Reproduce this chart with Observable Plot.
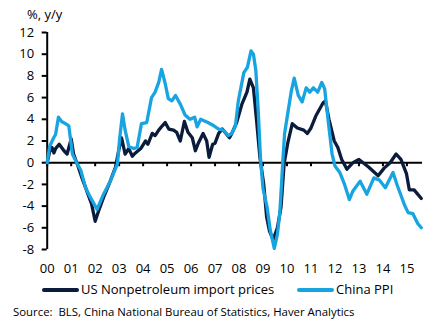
<!DOCTYPE html>
<html>
<head>
<meta charset="utf-8">
<script src="https://cdn.jsdelivr.net/npm/d3@7"></script>
<script src="https://cdn.jsdelivr.net/npm/@observablehq/plot@0.6"></script>
<style>
  html, body { margin: 0; padding: 0; background: #fff; }
  #wrap { position: relative; width: 440px; height: 327px; font-family: "Open Sans", sans-serif; color: #000; overflow: hidden; }
  #title { position: absolute; left: 27px; top: 5px; font-size: 13px; line-height: 18px; }
  #chart { position: absolute; left: 0; top: 0; }
  .leg { position: absolute; font-size: 13px; line-height: 18px; top: 280px; }
  .sw { position: absolute; height: 4px; top: 288px; border-radius: 2px; }
  #source { position: absolute; left: 13px; top: 304px; font-size: 11.4px; line-height: 16px; white-space: pre; }
</style>
</head>
<body>
<div id="wrap">
  <div id="chart"></div>
  <div id="title"></div>
  <div id="legend"></div>
  <div id="source"></div>
</div>
<script>
const titleText = "%, y/y";
const seriesNames = ["US Nonpetroleum import prices", "China PPI"];
const seriesColors = ["#0a1b3b", "#17a4e1"];
const sourceText = "Source:  BLS, China National Bureau of Statistics, Haver Analytics";

const years = [2000,2001,2002,2003,2004,2005,2006,2007,2008,2009,2010,2011,2012,2013,2014,2015];
const yearLabels = ["00","01","02","03","04","05","06","07","08","09","10","11","12","13","14","15"];
const yTicks = [-8,-6,-4,-2,0,2,4,6,8,10,12];

// US Nonpetroleum import prices, % y/y (decimal year, value)
const usDates = [2000.0,2000.1,2000.2,2000.28,2000.35,2000.5,2000.7,2000.83,2001.0,2001.1,2001.25,2001.45,2001.65,2001.85,2002.0,2002.15,2002.35,2002.63,2002.85,2002.98,2003.1,2003.25,2003.4,2003.55,2003.68,2003.9,2004.1,2004.2,2004.38,2004.5,2004.65,2004.8,2004.92,2005.07,2005.27,2005.4,2005.55,2005.72,2005.87,2006.05,2006.18,2006.3,2006.5,2006.65,2006.75,2006.9,2007.0,2007.15,2007.3,2007.6,2007.7,2007.9,2008.12,2008.33,2008.45,2008.6,2008.73,2008.87,2009.03,2009.15,2009.27,2009.42,2009.6,2009.75,2009.88,2010.03,2010.22,2010.43,2010.7,2010.85,2011.0,2011.2,2011.5,2011.6,2011.75,2011.97,2012.12,2012.28,2012.5,2012.75,2013.0,2013.4,2013.8,2014.05,2014.3,2014.55,2014.75,2014.98,2015.1,2015.3,2015.6];
const usValues = [0.0,1.0,1.4,0.9,1.3,1.7,1.1,0.8,2.2,0.8,-0.1,-1.4,-2.6,-3.8,-5.4,-4.4,-3.2,-1.7,-0.4,1.1,2.3,0.8,1.3,0.6,0.9,1.3,2.0,1.7,2.7,2.5,3.0,3.4,3.7,3.1,3.0,2.8,2.0,3.8,2.8,2.3,1.1,1.8,2.7,2.0,0.5,1.7,1.8,2.7,3.1,2.3,2.7,3.7,5.4,6.5,7.7,6.9,3.9,0.5,-2.0,-5.0,-6.3,-7.1,-6.0,-4.1,-0.1,1.8,3.6,3.2,3.0,2.7,3.2,4.3,5.5,5.7,4.0,2.0,1.4,0.3,-0.6,0.0,0.3,-0.4,-1.2,-0.5,0.0,0.8,0.3,-1.0,-2.5,-2.5,-3.3];

// China PPI, % y/y (decimal year, value)
const cnDates = [2000.0,2000.1,2000.27,2000.35,2000.47,2000.6,2000.76,2000.9,2001.05,2001.25,2001.4,2001.6,2001.8,2002.08,2002.35,2002.63,2002.93,2003.02,2003.14,2003.25,2003.4,2003.6,2003.75,2003.93,2004.15,2004.35,2004.5,2004.65,2004.77,2004.92,2005.05,2005.2,2005.35,2005.55,2005.75,2005.95,2006.15,2006.25,2006.4,2006.7,2006.95,2007.15,2007.35,2007.55,2007.7,2007.85,2007.97,2008.2,2008.35,2008.5,2008.6,2008.7,2008.8,2008.9,2009.0,2009.17,2009.3,2009.47,2009.6,2009.7,2009.77,2009.83,2009.9,2010.05,2010.18,2010.3,2010.47,2010.63,2010.8,2010.95,2011.1,2011.28,2011.45,2011.57,2011.72,2011.88,2012.0,2012.2,2012.4,2012.6,2012.75,2013.05,2013.33,2013.62,2013.85,2014.1,2014.42,2014.6,2014.9,2015.05,2015.25,2015.45,2015.6];
const cnValues = [0.0,1.5,2.3,2.6,4.2,3.8,3.6,3.4,0.8,-0.1,-0.7,-2.3,-3.2,-4.3,-2.9,-1.7,-0.1,2.2,4.5,3.0,1.5,1.3,1.4,3.6,3.7,6.0,6.5,7.4,8.6,7.3,5.9,5.7,6.2,5.4,4.4,4.0,4.2,3.3,4.0,3.7,3.4,3.1,3.0,2.5,2.7,3.4,5.7,8.3,8.8,10.3,10.0,8.5,4.8,0.2,-2.4,-4.1,-6.2,-7.9,-6.6,-4.6,-2.0,0.3,2.7,4.8,6.6,7.8,6.2,5.6,6.9,6.5,6.9,6.5,7.4,6.8,3.8,0.8,-0.3,-0.9,-2.0,-3.4,-2.6,-1.7,-2.9,-1.4,-1.6,-2.3,-0.9,-2.1,-3.9,-4.6,-4.7,-5.6,-6.0];

const us = usDates.map((d, i) => ({x: d, y: usValues[i]}));
const cn = cnDates.map((d, i) => ({x: d, y: cnValues[i]}));

const chart = Plot.plot({
  width: 440,
  height: 280,
  marginLeft: 46.7,
  marginRight: 18,
  marginTop: 32,
  marginBottom: 31,
  style: {fontFamily: "'Open Sans', sans-serif", fontSize: "13px", color: "#000", background: "transparent"},
  x: {domain: [2000, 2015.65]},
  y: {domain: [-8, 12]},
  marks: [
    Plot.axisY({ticks: yTicks, tickSize: 5, tickPadding: 8, strokeWidth: 2, label: null, tickFormat: d => String(d)}),
    Plot.axisX({ticks: years, tickSize: 0, tickPadding: 14, label: null, tickFormat: d => yearLabels[years.indexOf(d)]}),
    Plot.ruleX([2000], {stroke: "#000", strokeWidth: 2}),
    Plot.ruleY([0], {stroke: "#000", strokeWidth: 2}),
    Plot.ruleX(years, {x: d => d, y1: 0, y2: -0.37, stroke: "#000", strokeWidth: 2}),
    Plot.line(us, {x: "x", y: "y", stroke: seriesColors[0], strokeWidth: 3.3, strokeLinejoin: "round", strokeLinecap: "round"}),
    Plot.line(cn, {x: "x", y: "y", stroke: seriesColors[1], strokeWidth: 3.3, strokeLinejoin: "round", strokeLinecap: "round"})
  ]
});
document.getElementById("chart").appendChild(chart);
document.getElementById("title").textContent = titleText;
document.getElementById("source").textContent = sourceText;

const legend = document.getElementById("legend");
const swLeft = [42, 297];
const txtLeft = [81, 336];
seriesNames.forEach((name, i) => {
  const sw = document.createElement("div");
  sw.className = "sw";
  sw.style.left = swLeft[i] + "px";
  sw.style.width = "37px";
  sw.style.background = seriesColors[i];
  legend.appendChild(sw);
  const t = document.createElement("div");
  t.className = "leg";
  t.style.left = txtLeft[i] + "px";
  t.textContent = name;
  legend.appendChild(t);
});
</script>
</body>
</html>
